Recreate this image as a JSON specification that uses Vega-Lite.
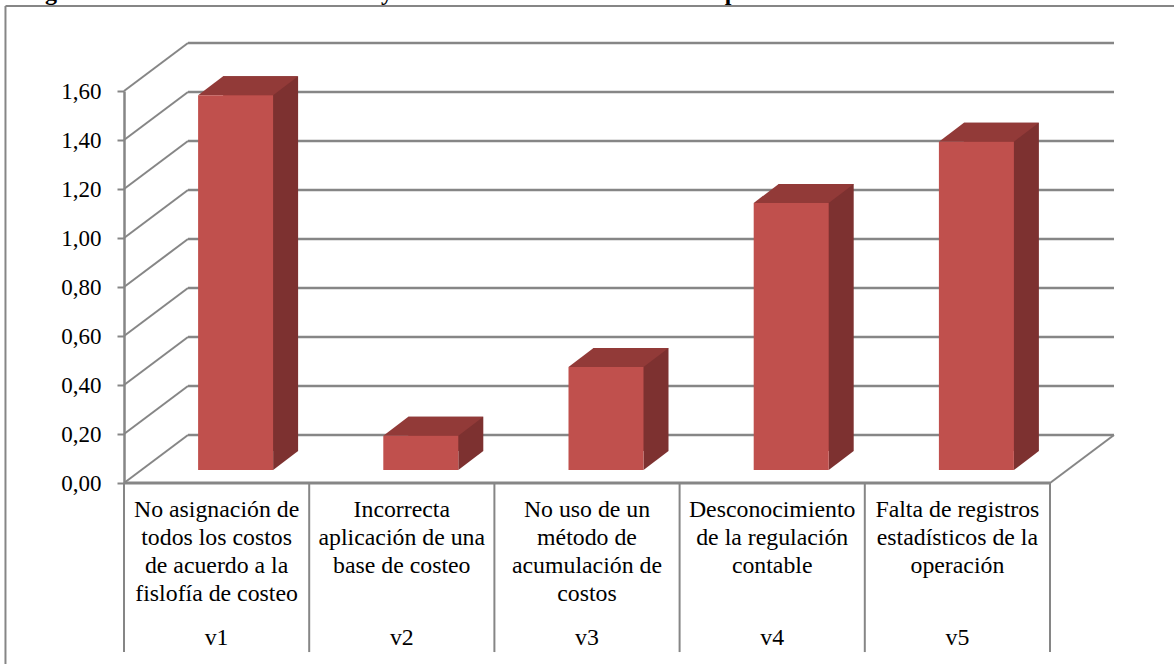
{
"$schema":"https://vega.github.io/schema/vega-lite/v6.json",
"width":1174,"height":664,"padding":0,"autosize":{"type":"none"},
"background":"white",
"view":{"stroke":null},
"datasets":{
"barras":[
{"v":"v1","categoria":"No asignación de\ntodos los costos\nde acuerdo a la\nfislofía de costeo","valor":1.53},
{"v":"v2","categoria":"Incorrecta\naplicación de una\nbase de costeo","valor":0.14},
{"v":"v3","categoria":"No uso de un\nmétodo de\nacumulación de\ncostos","valor":0.42},
{"v":"v4","categoria":"Desconocimiento\nde la regulación\ncontable","valor":1.09},
{"v":"v5","categoria":"Falta de registros\nestadísticos de la\noperación","valor":1.34}
],
"ticks":[{"t":0},{"t":0.2},{"t":0.4},{"t":0.6},{"t":0.8},{"t":1.0},{"t":1.2},{"t":1.4},{"t":1.6}],
"cortes":[{"b":0},{"b":1},{"b":2},{"b":3},{"b":4},{"b":5}]
},
"resolve":{"scale":{"x":"independent"}},
"layer":[
{"data":{"name":"ticks"},
 "mark":{"type":"rule","color":"#868686","strokeWidth":2.5,"xOffset":64,"yOffset":-48,"x2Offset":64,"y2Offset":-48},
 "encoding":{"x":{"datum":0,"type":"quantitative","scale":{"domain":[0,5],"range":[124,1050]},"axis":null},"x2":{"datum":5},
 "y":{"field":"t","type":"quantitative","scale":{"domain":[0,1.6],"range":[483,91]},
   "axis":{"title":null,"values":[0,0.2,0.4,0.6,0.8,1,1.2,1.4,1.6],"offset":-124,"grid":false,"domainColor":"#868686","domainWidth":2.5,"tickColor":"#868686","tickWidth":2,"tickSize":7,"labelFont":"Liberation Serif","labelFontSize":23,"labelColor":"#000","labelPadding":16,"labelExpr":"replace(format(datum.value,'.2f'),'.',',')"}}}},
{"data":{"name":"ticks"},
 "mark":{"type":"rule","color":"#868686","strokeWidth":2,"x2Offset":64,"y2Offset":-48},
 "encoding":{"x":{"datum":0,"type":"quantitative","scale":{"domain":[0,5],"range":[124,1050]},"axis":null},"x2":{"datum":0},
 "y":{"field":"t","type":"quantitative"},"y2":{"field":"t"}}},
{"data":{"values":[{"a":5}]},
 "mark":{"type":"rule","color":"#868686","strokeWidth":2,"x2Offset":64,"y2Offset":-48},
 "encoding":{"x":{"field":"a","type":"quantitative","scale":{"domain":[0,5],"range":[124,1050]},"axis":null},"x2":{"field":"a"},
 "y":{"datum":0,"type":"quantitative"},"y2":{"datum":0}}},
{"data":{"values":[{"a":0,"c":5}]},
 "mark":{"type":"rule","color":"#868686","strokeWidth":3},
 "encoding":{"x":{"field":"a","type":"quantitative","scale":{"domain":[0,5],"range":[124,1050]},"axis":null},"x2":{"field":"c"},
 "y":{"datum":0,"type":"quantitative"}}},
{"data":{"name":"cortes"},
 "mark":{"type":"rule","color":"#868686","strokeWidth":2},
 "encoding":{"x":{"field":"b","type":"quantitative","scale":{"domain":[0,5],"range":[124,1050]},"axis":null},
 "y":{"datum":0,"type":"quantitative"},"y2":{"datum":-0.69}}},
{"data":{"values":[{"a":-0.64}]},
 "mark":{"type":"rule","color":"#868686","strokeWidth":2},
 "encoding":{"x":{"field":"a","type":"quantitative","scale":{"domain":[0,5],"range":[124,1050]},"axis":null},
 "y":{"datum":1.947,"type":"quantitative"},"y2":{"datum":-0.74}}},
{"data":{"values":[{"a":-0.64,"c":5.67}]},
 "mark":{"type":"rule","color":"#868686","strokeWidth":2},
 "encoding":{"x":{"field":"a","type":"quantitative","scale":{"domain":[0,5],"range":[124,1050]},"axis":null},"x2":{"field":"c"},
 "y":{"datum":1.947,"type":"quantitative"}}},
{"data":{"name":"barras"},
 "mark":{"type":"bar","color":"#7d3130","width":75,"xOffset":44,"yOffset":-32,"y2Offset":-32},
 "encoding":{"x":{"field":"v","type":"nominal","scale":{"domain":["v1","v2","v3","v4","v5"],"range":[124,1050],"paddingInner":0,"paddingOuter":0},"axis":null},
 "y":{"field":"valor","type":"quantitative"},"y2":{"datum":0}}},
{"data":{"name":"barras"},
 "mark":{"type":"point","filled":true,"opacity":1,"color":"#7d3130","strokeWidth":0,"size":4,"shape":"M0 0 L25 0 L0 19 Z","xOffset":56.5,"yOffset":-32},
 "encoding":{"x":{"field":"v","type":"nominal","scale":{"domain":["v1","v2","v3","v4","v5"],"range":[124,1050],"paddingInner":0,"paddingOuter":0},"axis":null},
 "y":{"datum":0,"type":"quantitative"}}},
{"data":{"name":"barras"},
 "mark":{"type":"point","filled":true,"opacity":1,"color":"#923a38","strokeWidth":0,"size":4,"shape":"M-37.5 0 L37.5 0 L62.5 -19 L-12.5 -19 Z","xOffset":19,"yOffset":-13},
 "encoding":{"x":{"field":"v","type":"nominal","scale":{"domain":["v1","v2","v3","v4","v5"],"range":[124,1050],"paddingInner":0,"paddingOuter":0},"axis":null},
 "y":{"field":"valor","type":"quantitative"}}},
{"data":{"name":"barras"},
 "mark":{"type":"bar","color":"#c0504d","width":75,"xOffset":19,"yOffset":-13,"y2Offset":-13},
 "encoding":{"x":{"field":"v","type":"nominal","scale":{"domain":["v1","v2","v3","v4","v5"],"range":[124,1050],"paddingInner":0,"paddingOuter":0},"axis":null},
 "y":{"field":"valor","type":"quantitative"},"y2":{"datum":0}}},
{"data":{"name":"barras"},
 "mark":{"type":"text","font":"Liberation Serif","fontSize":23.8,"color":"#000","lineBreak":"\n","lineHeight":28,"baseline":"top","dy":15},
 "encoding":{"x":{"field":"v","type":"nominal","scale":{"domain":["v1","v2","v3","v4","v5"],"range":[124,1050],"paddingInner":0,"paddingOuter":0},"axis":null},
 "y":{"datum":0,"type":"quantitative"},"text":{"field":"categoria"}}},
{"data":{"name":"barras"},
 "mark":{"type":"text","font":"Liberation Serif","fontSize":23.8,"color":"#000","baseline":"alphabetic"},
 "encoding":{"x":{"field":"v","type":"nominal","scale":{"domain":["v1","v2","v3","v4","v5"],"range":[124,1050],"paddingInner":0,"paddingOuter":0},"axis":null},
 "y":{"datum":-0.66,"type":"quantitative"},"text":{"field":"v"}}},
{"data":{"values":[{"a":-0.394,"s":"g"},{"a":1.42,"s":"y"},{"a":3.28,"s":"p"}]},
 "mark":{"type":"text","font":"Liberation Serif","fontSize":24,"fontWeight":"bold","color":"#000","baseline":"alphabetic"},
 "encoding":{"x":{"field":"a","type":"quantitative","scale":{"domain":[0,5],"range":[124,1050]},"axis":null},
 "y":{"datum":1.97,"type":"quantitative"},"text":{"field":"s"}}}
]
}
